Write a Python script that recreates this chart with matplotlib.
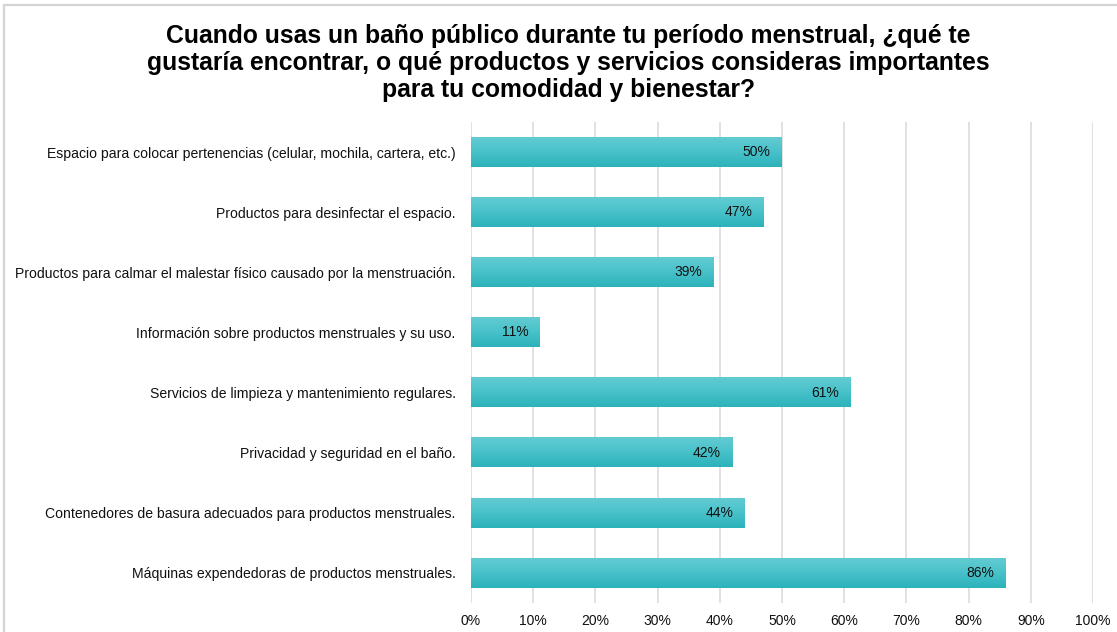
import numpy as np
import matplotlib.pyplot as plt
from matplotlib.colors import LinearSegmentedColormap
from matplotlib.patches import Rectangle

plt.rcParams['font.family'] = ['Liberation Sans', 'DejaVu Sans']

title = ("Cuando usas un baño público durante tu período menstrual, ¿qué te\n"
         "gustaría encontrar, o qué productos y servicios consideras importantes\n"
         "para tu comodidad y bienestar?")

categories = [
    "Espacio para colocar pertenencias (celular, mochila, cartera, etc.)",
    "Productos para desinfectar el espacio.",
    "Productos para calmar el malestar físico causado por la menstruación.",
    "Información sobre productos menstruales y su uso.",
    "Servicios de limpieza y mantenimiento regulares.",
    "Privacidad y seguridad en el baño.",
    "Contenedores de basura adecuados para productos menstruales.",
    "Máquinas expendedoras de productos menstruales.",
]
values = [50, 47, 39, 11, 61, 42, 44, 86]
xticks = list(range(0, 101, 10))

fig = plt.figure(figsize=(11.17, 6.32), dpi=100)

# light frame around the chart area
fig.patches.append(Rectangle((4 / 1117, -0.05), 1.2, 1 - 5 / 632 + 0.05,
                             transform=fig.transFigure, fill=False,
                             edgecolor='#d4d4d4', linewidth=1.6))

ax = fig.add_axes([471 / 1117, 1 - 603 / 632, (1093 - 471) / 1117, (603 - 122) / 632])

grad = LinearSegmentedColormap.from_list('teal', ['#2cb2ba', '#48c1c9', '#62cbd2'])
gimg = np.linspace(0, 1, 64).reshape(-1, 1)
bh = 0.49
for i, v in enumerate(values):
    ax.imshow(gimg, cmap=grad, aspect='auto', origin='lower',
              extent=[0, v, i + bh / 2, i - bh / 2], zorder=2)
    ax.text(v - 1.8, i, f"{v}%", ha='right', va='center', fontsize=10,
            color='#111111', zorder=3)

ax.set_xlim(0, 100)
ax.set_ylim(len(values) - 0.5, -0.5)
ax.set_xticks(xticks)
ax.set_xticklabels([f"{t}%" for t in xticks], fontsize=10, color='#111111')
ax.set_yticks(range(len(categories)))
ax.set_yticklabels(categories, fontsize=10.1, color='#111111')
ax.tick_params(axis='both', length=0)
ax.tick_params(axis='y', pad=11)
ax.tick_params(axis='x', pad=8)
ax.grid(axis='x', color='#d9d9d9', linewidth=1.1, zorder=0)
ax.set_axisbelow(True)
for s in ax.spines.values():
    s.set_visible(False)

fig.text(568 / 1117, 1 - 24 / 632, title, ha='center', va='top',
         fontsize=17.8, fontweight='bold', linespacing=1.16, color='#000000')

fig.savefig('out.png', dpi=100)
